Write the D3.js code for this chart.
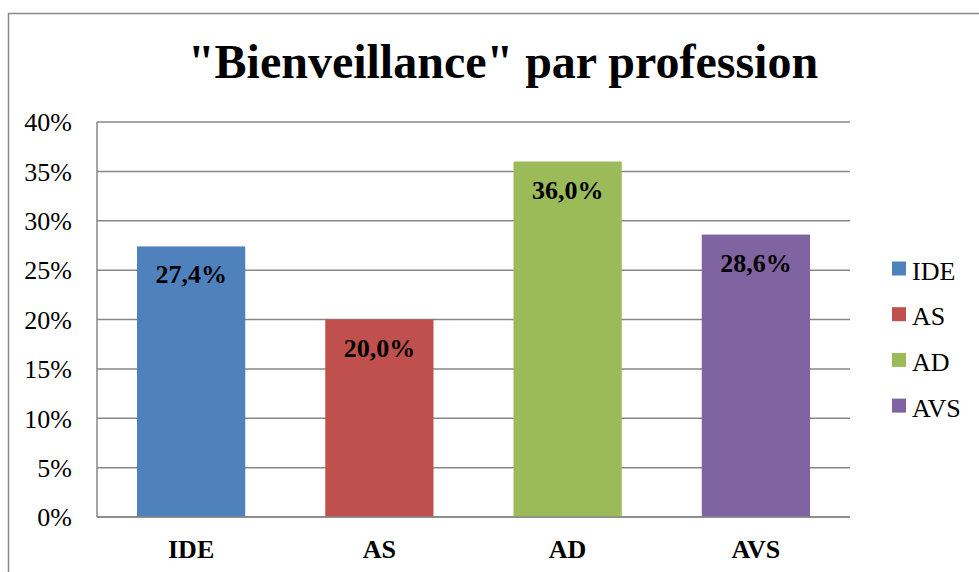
<!DOCTYPE html>
<html><head><meta charset="utf-8">
<script src="https://cdn.jsdelivr.net/npm/d3@7"></script>
<style>html,body{margin:0;padding:0;background:#fff}</style>
</head><body>
<svg id="c" width="979" height="572"></svg>
<script>
const categories = ["IDE","AS","AD","AVS"];
const values = [0.274, 0.200, 0.360, 0.286];
const valueLabels = ["27,4%","20,0%","36,0%","28,6%"];
const colors = ["#4F81BD","#C0504D","#9BBB59","#8064A2"];
const yTicks = [0,0.05,0.10,0.15,0.20,0.25,0.30,0.35,0.40];
const title = "\"Bienveillance\" par profession";

const svg = d3.select("#c");
const font = "'Liberation Serif','Times New Roman',serif";
const grid = "#878787";

svg.append("rect").attr("x",8.5).attr("y",13.5).attr("width",1000).attr("height",600)
  .attr("fill","#fff").attr("stroke","#8a8a8a").attr("stroke-width",1.5);

const L=97, R=850, T=122, B=517;
const x = d3.scaleBand().domain(categories).range([L,R]).paddingInner(0.425).paddingOuter(0.2125);
const y = d3.scaleLinear().domain([0,0.40]).range([B,T]);

svg.append("text").attr("x",503).attr("y",78).attr("text-anchor","middle")
  .attr("font-family",font).attr("font-weight","bold").attr("font-size",48).text(title);

// gridlines
svg.append("g").selectAll("line").data(yTicks).join("line")
  .attr("x1",L).attr("x2",R).attr("y1",d=>y(d)).attr("y2",d=>y(d))
  .attr("stroke",grid).attr("stroke-width",1.5);

// y axis
const yAxis = d3.axisLeft(y).tickValues(yTicks).tickFormat(d=>Math.round(d*100)+"%").tickSize(0).tickPadding(25);
const gy = svg.append("g").attr("transform",`translate(${L},0)`).call(yAxis);
gy.select(".domain").remove();
gy.selectAll("text").attr("font-family",font).attr("font-size",26).attr("fill","#000").attr("dy","0.34em");
svg.append("line").attr("x1",L).attr("x2",L).attr("y1",T).attr("y2",B).attr("stroke",grid).attr("stroke-width",1.5);

// bars
svg.append("g").selectAll("rect").data(categories).join("rect")
  .attr("x",d=>x(d)).attr("width",x.bandwidth())
  .attr("y",(d,i)=>y(values[i])).attr("height",(d,i)=>B-y(values[i]))
  .attr("fill",(d,i)=>colors[i]);
svg.append("line").attr("x1",L).attr("x2",R).attr("y1",B).attr("y2",B).attr("stroke",grid).attr("stroke-width",1.5);

// value labels
svg.append("g").selectAll("text").data(categories).join("text")
  .attr("x",d=>x(d)+x.bandwidth()/2).attr("y",(d,i)=>y(values[i])+37)
  .attr("text-anchor","middle").attr("font-family",font).attr("font-weight","bold").attr("font-size",26)
  .text((d,i)=>valueLabels[i]);

// x axis
const xAxis = d3.axisBottom(x).tickSize(0).tickPadding(0);
const gx = svg.append("g").attr("transform",`translate(0,${B})`).call(xAxis);
gx.select(".domain").remove();
gx.selectAll("text").attr("font-family",font).attr("font-weight","bold").attr("font-size",26).attr("fill","#000")
  .attr("dy",null).attr("y",41);

// legend
const lg = svg.append("g").selectAll("g").data(categories).join("g")
  .attr("transform",(d,i)=>`translate(892,${268.5+i*45.7})`);
lg.append("rect").attr("x",0).attr("y",-7).attr("width",14).attr("height",14).attr("fill",(d,i)=>colors[i]);
lg.append("text").attr("x",20).attr("y",11).attr("font-family",font).attr("font-size",26).text(d=>d);
</script>
</body></html>
